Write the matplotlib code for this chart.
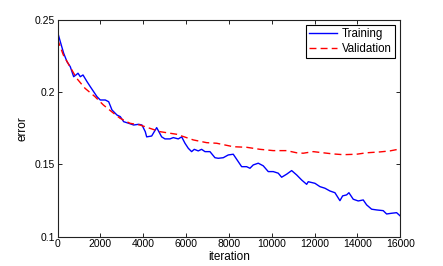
import numpy as np
from matplotlib import pyplot as plt

plt.rcParams["font.family"] = ["Liberation Sans", "DejaVu Sans"]

# training error
train_iter = [0, 131, 288, 443, 597, 754, 863, 957, 1064, 1190, 1377, 1531,
              1689, 1843, 1997, 2230, 2389, 2543, 2776, 2930, 3089, 3322, 3556,
              3789, 3943, 4097, 4162, 4396, 4629, 4862, 5016, 5250, 5404, 5637,
              5796, 5950, 6105, 6260, 6384, 6570, 6726, 6884, 7116, 7349, 7504,
              7737, 7970, 8203, 8436, 8595, 8827, 8983, 9136, 9370, 9603, 9837,
              10070, 10303, 10462, 10695, 10929, 11162, 11395, 11629, 11704,
              12016, 12249, 12483, 12716, 12949, 13183, 13308, 13495, 13602,
              13803, 14036, 14270, 14428, 14662, 14895, 15203, 15361, 15595,
              15828, 16000]
train_err = [0.2417, 0.2348, 0.2268, 0.221, 0.2175, 0.2106, 0.2118, 0.213,
             0.2106, 0.2118, 0.2072, 0.2037, 0.2002, 0.1968, 0.1945, 0.1945,
             0.1933, 0.1876, 0.1841, 0.183, 0.1795, 0.1784, 0.1772, 0.1777,
             0.1772, 0.1726, 0.169, 0.1696, 0.1754, 0.169, 0.1676, 0.1676,
             0.1685, 0.1676, 0.169, 0.1646, 0.1611, 0.1588, 0.1604, 0.1593,
             0.1604, 0.1588, 0.1588, 0.1546, 0.1542, 0.1546, 0.1565, 0.157,
             0.1519, 0.1484, 0.1484, 0.1473, 0.1496, 0.1508, 0.149, 0.145,
             0.145, 0.1439, 0.1411, 0.1432, 0.1457, 0.1427, 0.1392, 0.1362,
             0.138, 0.1369, 0.1346, 0.1335, 0.1316, 0.1304, 0.1249, 0.1282,
             0.1289, 0.1304, 0.1259, 0.1247, 0.1254, 0.122, 0.119, 0.1185,
             0.118, 0.1157, 0.1162, 0.1166, 0.1143]

# validation error
val_iter = [0, 272, 583, 894, 1283, 1750, 2137, 2529, 2916, 3383, 3850, 4316,
            4783, 5562, 6337, 6962, 7429, 8203, 8827, 9450, 10070, 10695,
            11162, 11470, 11937, 12403, 12870, 13336, 13959, 14428, 15050,
            15516, 16000]
val_err = [0.2365, 0.2256, 0.2175, 0.2095, 0.2026, 0.1968, 0.1911, 0.1864,
           0.1819, 0.1784, 0.1772, 0.1749, 0.1726, 0.1708, 0.1669, 0.165,
           0.1646, 0.1622, 0.1618, 0.1604, 0.1595, 0.1595, 0.158, 0.1577,
           0.1588, 0.158, 0.1572, 0.1567, 0.157, 0.158, 0.1586, 0.1593,
           0.1607]

x_ticks = [0, 2000, 4000, 6000, 8000, 10000, 12000, 14000, 16000]
y_ticks = [0.1, 0.15, 0.2, 0.25]
y_tick_labels = ["0.1", "0.15", "0.2", "0.25"]

fig = plt.figure(figsize=(4.43, 2.66), dpi=100)
ax = fig.add_axes([0.1298, 0.1102, 0.7738, 0.8157])

ax.plot(train_iter, train_err, color="b", linewidth=1.0, label="Training")
ax.plot(val_iter, val_err, color="r", linewidth=1.0, linestyle=(0, (5, 3)),
        label="Validation")

ax.set_xlim(0, 16000)
ax.set_ylim(0.1, 0.25)
ax.set_xticks(x_ticks)
ax.set_xticklabels([str(t) for t in x_ticks])
ax.set_yticks(y_ticks)
ax.set_yticklabels(y_tick_labels)
ax.tick_params(direction="in", top=True, right=True, length=3, width=0.6,
               labelsize=7.5, pad=2)
for s in ax.spines.values():
    s.set_linewidth(0.8)
    s.set_color("#222222")

ax.set_xlabel("iteration", fontsize=8.5, labelpad=1)
ax.set_ylabel("error", fontsize=8.5, labelpad=4)

leg = ax.legend(loc="upper right", fontsize=8.3, fancybox=False, framealpha=1,
                edgecolor="black", handlelength=2.4, handletextpad=0.4,
                borderpad=0.3, labelspacing=0.2, borderaxespad=0.45)
leg.get_frame().set_linewidth(0.8)

fig.savefig("out.png", dpi=100)
